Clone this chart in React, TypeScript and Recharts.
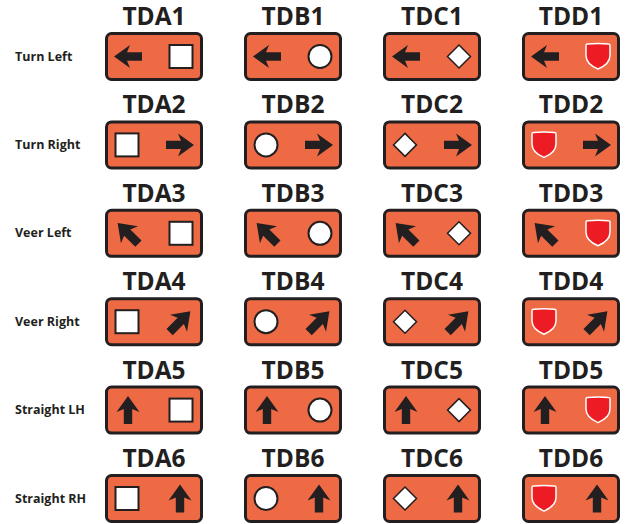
import React from "react";
import { ScatterChart, Scatter, XAxis, YAxis } from "recharts";

// sign families (columns) and their route symbol
const families = ["TDA", "TDB", "TDC", "TDD"];
const symbols = ["square", "circle", "diamond", "shield"];

// rows: label, arrow direction, which side the symbol sits on
const rowLabels = [
  "Turn Left",
  "Turn Right",
  "Veer Left",
  "Veer Right",
  "Straight LH",
  "Straight RH",
];
const arrows = ["left", "right", "upLeft", "upRight", "up", "up"];
const symbolSide = ["right", "left", "right", "left", "right", "left"];

const ORANGE = "#ee6a45";
const INK = "#231f20";
const RED = "#ed1c24";

const signs = families.flatMap((fam, c) =>
  rowLabels.map((_, r) => ({
    col: c,
    row: r,
    code: `${fam}${r + 1}`,
    symbol: symbols[c],
    arrow: arrows[r],
    side: symbolSide[r],
  }))
);

const arrowAngle: Record<string, number> = {
  right: 0,
  left: 180,
  up: -90,
  upLeft: -135,
  upRight: -45,
};

const ARROW_PATH =
  "M14 0 L-2 -11.5 L1 -4.2 L-14 -4.2 L-14 4.2 L1 4.2 L-2 11.5 Z";

const SHIELD_PATH =
  "M-12 -11 Q-12 -12.5 -10.5 -12.5 Q0 -13.5 10.5 -12.5 Q12 -12.5 12 -11 L12 -1 C12 6 6 10 0 12.5 C-6 10 -12 6 -12 -1 Z";

const Symbol = ({ kind, x, y }: { kind: string; x: number; y: number }) => {
  if (kind === "square")
    return (
      <rect x={x - 11.5} y={y - 11.5} width={23} height={23} fill="#fff" stroke={INK} strokeWidth={2} />
    );
  if (kind === "circle")
    return <circle cx={x} cy={y} r={11.5} fill="#fff" stroke={INK} strokeWidth={2} />;
  if (kind === "diamond")
    return (
      <path
        d={`M${x} ${y - 11.5} L${x + 11.5} ${y} L${x} ${y + 11.5} L${x - 11.5} ${y} Z`}
        fill="#fff"
        stroke={INK}
        strokeWidth={1.5}
      />
    );
  return (
    <path d={SHIELD_PATH} transform={`translate(${x},${y})`} fill={RED} stroke="#fff" strokeWidth={1.5} />
  );
};

const Sign = (props: any) => {
  const { cx, cy, payload } = props;
  if (cx == null || cy == null) return null;
  const symX = payload.side === "right" ? cx + 27 : cx - 27;
  const arrX = payload.side === "right" ? cx - 26 : cx + 26;
  const diag = payload.arrow === "upLeft" || payload.arrow === "upRight";
  return (
    <g>
      <text
        x={cx}
        y={cy - 31.5}
        textAnchor="middle"
        fontFamily="'Open Sans', sans-serif"
        fontWeight={700}
        fontSize={24.5}
        fill={INK}
      >
        {payload.code}
      </text>
      <rect
        x={cx - 47.5}
        y={cy - 23}
        width={95}
        height={46}
        rx={5}
        fill={ORANGE}
        stroke={INK}
        strokeWidth={3}
      />
      <path
        d={ARROW_PATH}
        fill={INK}
        transform={`translate(${arrX},${cy}) rotate(${arrowAngle[payload.arrow]}) scale(${diag ? 1.05 : 1})`}
      />
      <Symbol kind={payload.symbol} x={symX} y={cy} />
    </g>
  );
};

const RowTick = (props: any) => {
  const { y, payload } = props;
  return (
    <text
      x={15}
      y={y + 4}
      textAnchor="start"
      fontFamily="'Open Sans', sans-serif"
      fontWeight={700}
      fontSize={12.5}
      fill={INK}
    >
      {rowLabels[payload.value]}
    </text>
  );
};

export default function App() {
  return (
    <div style={{ position: "absolute", left: 0, top: 0, background: "#fff" }}>
      <ScatterChart width={631} height={524} margin={{ top: 0, right: 0, bottom: 0, left: 0 }}>
        <XAxis
          type="number"
          dataKey="col"
          hide
          allowDataOverflow
          domain={[-70 / 139, 477 / 139]}
        />
        <YAxis
          type="number"
          dataKey="row"
          width={84}
          reversed
          allowDataOverflow
          domain={[-56.5 / 88.4, (524 - 56.5) / 88.4]}
          ticks={[0, 1, 2, 3, 4, 5]}
          interval={0}
          axisLine={false}
          tickLine={false}
          tick={RowTick}
        />
        <Scatter data={signs} shape={Sign} isAnimationActive={false} />
      </ScatterChart>
    </div>
  );
}
